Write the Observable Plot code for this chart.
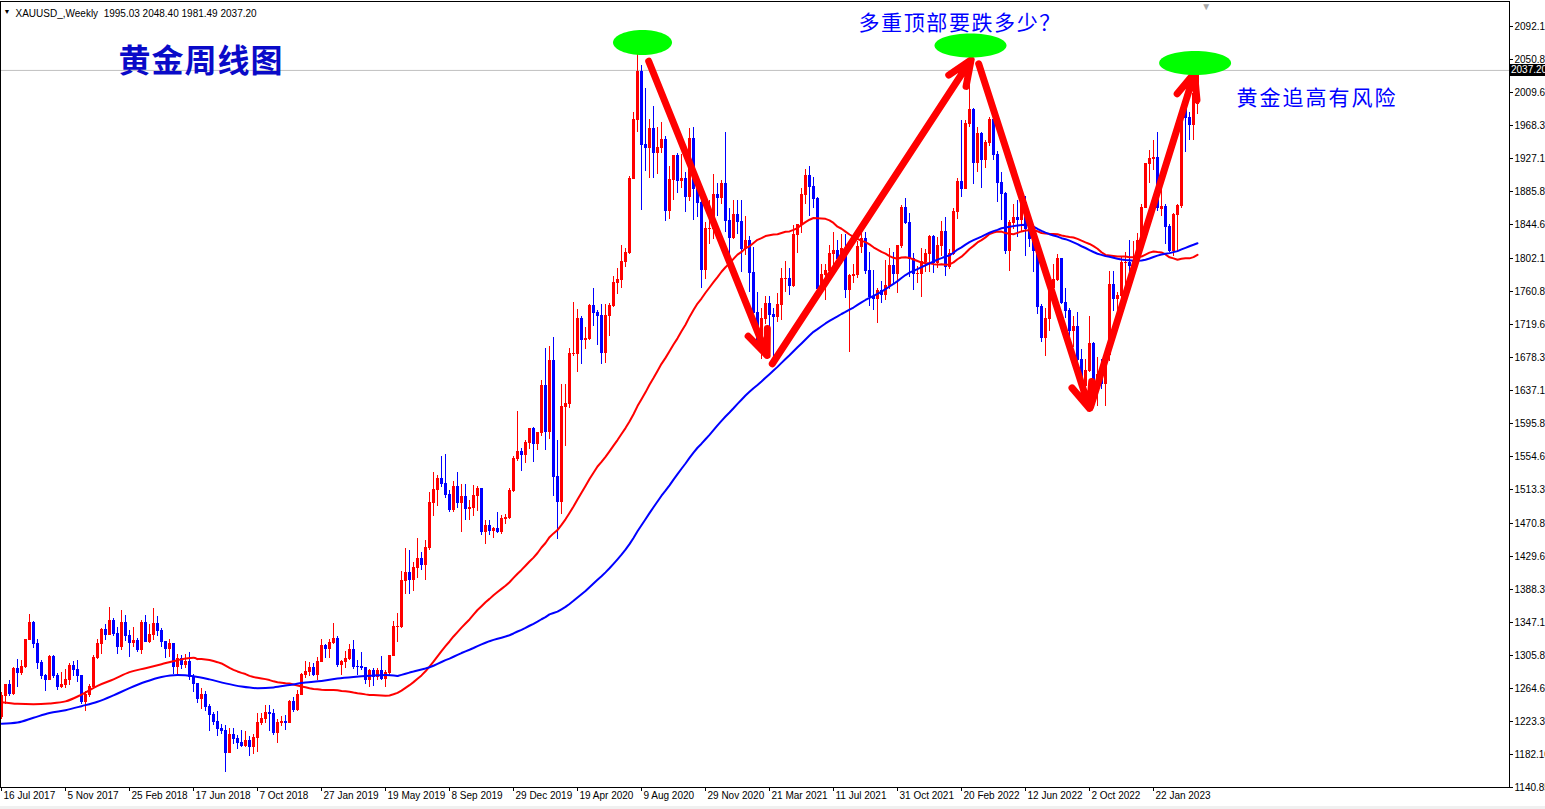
<!DOCTYPE html>
<html><head><meta charset="utf-8">
<script src="https://cdn.jsdelivr.net/npm/d3@7"></script>
<script src="https://cdn.jsdelivr.net/npm/@observablehq/plot@0.6"></script>
<style>
html,body{margin:0;padding:0;background:#fff;overflow:hidden;}
</style></head>
<body><div id="chart"></div>
<script>
// ---------- DATA (weekly XAUUSD, one entry per weekly bar, bar 0 = 16 Jul 2017) ----------
const weekLabels = ["16 Jul 2017","5 Nov 2017","25 Feb 2018","17 Jun 2018","7 Oct 2018","27 Jan 2019","19 May 2019","8 Sep 2019","29 Dec 2019","19 Apr 2020","9 Aug 2020","29 Nov 2020","21 Mar 2021","11 Jul 2021","31 Oct 2021","20 Feb 2022","12 Jun 2022","2 Oct 2022","22 Jan 2023"];
const labelBars = [0,16,32,48,64,80,96,112,128,144,160,176,192,208,224,240,256,272,288];

const opens = [
1229,1255,1269,1258,1289,1284,1291,1325,1346,1320, 1297,1280,1275,1304,1280,1266,1269,1275,1293,1288,
1280,1248,1256,1266,1303,1320,1338,1332,1349,1333, 1316,1347,1330,1321,1324,1313,1347,1323,1332,1345,
1336,1323,1314,1320,1292,1301,1294,1298,1279,1270, 1252,1256,1241,1231,1223,1214,1212,1184,1206,1201,
1196,1193,1199,1192,1203,1222,1226,1234,1233,1209, 1222,1223,1222,1248,1238,1257,1281,1285,1290,1282,
1298,1318,1314,1322,1327,1294,1298,1302,1313,1292, 1291,1290,1275,1287,1279,1286,1277,1284,1305,1341,
1341,1399,1409,1400,1415,1426,1419,1440,1496,1513, 1527,1520,1507,1488,1517,1497,1504,1489,1490,1505,
1514,1460,1468,1462,1464,1460,1476,1478,1511,1552, 1560,1557,1571,1589,1570,1584,1643,1585,1674,1529,
1498,1617,1620,1683,1683,1726,1700,1702,1743,1734, 1730,1684,1730,1743,1771,1775,1798,1809,1902,1975,
2035,1944,1940,1964,1934,1940,1950,1862,1900,1930, 1899,1902,1879,1951,1889,1871,1788,1839,1839,1881,
1878,1895,1849,1828,1856,1848,1814,1824,1784,1734, 1700,1727,1745,1732,1729,1744,1777,1777,1768,1831,
1844,1881,1905,1892,1877,1764,1781,1787,1808,1812, 1802,1814,1763,1780,1781,1817,1827,1787,1754,1751,
1761,1757,1768,1793,1783,1818,1865,1846,1802,1783, 1783,1798,1808,1829,1797,1818,1835,1792,1808,1860,
1898,1889,1970,1988,1921,1958,1925,1946,1975,1931, 1896,1883,1811,1846,1853,1850,1871,1839,1827,1811,
1742,1703,1727,1765,1775,1802,1747,1737,1712,1717, 1675,1643,1661,1695,1644,1657,1645,1681,1769,1751,
1755,1797,1797,1793,1798,1824,1865,1920,1926,1928, 1864,1866,1842,1811,1856,1868,1989,1978,1969,1995.03];

const highs = [
1260,1270,1275,1291,1301,1300,1326,1357,1348,1326, 1300,1282,1306,1306,1283,1284,1288,1296,1298,1299,
1280,1261,1270,1306,1326,1339,1345,1366,1352,1341, 1362,1356,1337,1341,1327,1349,1356,1345,1365,1354,
1339,1323,1326,1320,1307,1306,1307,1310,1282,1270, 1265,1261,1245,1235,1236,1220,1218,1214,1215,1206,
1212,1211,1204,1207,1233,1233,1243,1243,1238,1226, 1230,1231,1250,1253,1262,1283,1298,1297,1296,1303,
1326,1320,1326,1346,1330,1300,1311,1320,1325,1300, 1310,1291,1288,1289,1289,1304,1287,1306,1348,1358,
1411,1439,1437,1422,1452,1434,1449,1510,1535,1531, 1555,1557,1512,1523,1535,1519,1519,1500,1518,1517,
1514,1474,1475,1466,1484,1481,1482,1514,1554,1611, 1564,1574,1590,1591,1585,1649,1689,1692,1703,1575,
1644,1645,1690,1747,1738,1730,1716,1745,1765,1737, 1745,1744,1746,1779,1789,1818,1815,1904,1984,2075,
2043,2015,1976,1992,1966,1972,1955,1917,1931,1933, 1932,1910,1965,1966,1899,1876,1847,1875,1907,1896,
1900,1959,1864,1875,1875,1875,1855,1829,1816,1759, 1739,1755,1755,1740,1758,1789,1798,1790,1843,1845,
1890,1913,1917,1903,1878,1795,1795,1818,1834,1825, 1832,1832,1782,1795,1823,1834,1834,1809,1787,1764,
1773,1800,1814,1810,1818,1868,1877,1858,1808,1792, 1815,1813,1831,1831,1828,1848,1853,1813,1865,1902,
1974,1974,2070,1990,1966,1960,1949,1978,1998,1936, 1910,1884,1849,1870,1874,1877,1879,1847,1830,1813,
1745,1739,1767,1794,1807,1802,1765,1740,1729,1735, 1688,1676,1730,1697,1678,1676,1683,1786,1786,1760,
1804,1810,1824,1823,1833,1869,1921,1937,1949,1959, 1890,1870,1845,1858,1870,1990,2009,1984,2032,2048.40];

const lows = [
1226,1244,1254,1256,1266,1281,1290,1324,1314,1288, 1276,1261,1275,1277,1262,1264,1264,1268,1279,1272,
1245,1236,1253,1265,1301,1307,1325,1331,1330,1307, 1312,1323,1303,1316,1309,1307,1322,1321,1325,1330,
1316,1302,1303,1282,1282,1288,1290,1275,1260,1246, 1238,1236,1211,1218,1204,1207,1160,1183,1195,1188,
1191,1191,1180,1182,1185,1218,1221,1211,1206,1196, 1217,1212,1221,1235,1236,1256,1277,1279,1280,1275,
1298,1302,1302,1320,1291,1281,1290,1299,1288,1281, 1287,1270,1266,1267,1275,1274,1266,1280,1305,1322,
1340,1382,1382,1386,1402,1412,1400,1437,1480,1492, 1516,1502,1485,1484,1490,1459,1475,1475,1480,1486,
1456,1445,1456,1452,1458,1457,1470,1476,1510,1548, 1536,1546,1563,1547,1562,1580,1562,1576,1504,1451,
1482,1567,1614,1680,1659,1670,1688,1700,1717,1693, 1670,1671,1704,1741,1757,1765,1791,1807,1902,1960,
1862,1911,1902,1902,1907,1933,1848,1851,1874,1883, 1890,1860,1873,1850,1853,1764,1776,1820,1826,1855,
1870,1834,1803,1826,1832,1785,1806,1760,1717,1687, 1676,1719,1714,1677,1722,1724,1760,1756,1766,1808,
1833,1869,1855,1865,1761,1761,1750,1784,1791,1789, 1795,1752,1684,1771,1777,1808,1782,1742,1737,1721,
1746,1750,1763,1770,1758,1815,1845,1778,1762,1771, 1753,1785,1785,1783,1790,1805,1780,1788,1806,1851,
1878,1888,1966,1895,1910,1890,1915,1942,1925,1872, 1850,1807,1786,1838,1828,1836,1805,1816,1784,1732,
1697,1680,1711,1754,1773,1745,1727,1688,1691,1654, 1639,1615,1660,1640,1617,1638,1617,1673,1736,1721,
1743,1766,1773,1785,1795,1824,1865,1896,1912,1861, 1855,1819,1809,1804,1810,1864,1935,1949,1950,1981.49];

const closes = [
1255,1269,1258,1289,1284,1291,1325,1346,1320,1297, 1280,1275,1304,1280,1266,1269,1275,1293,1288,1280,
1248,1256,1266,1303,1320,1338,1332,1349,1333,1316, 1347,1330,1321,1324,1313,1347,1323,1332,1345,1336,
1323,1314,1320,1292,1301,1294,1298,1279,1270,1252, 1256,1241,1231,1223,1214,1212,1184,1206,1201,1196,
1193,1199,1192,1203,1222,1226,1234,1233,1209,1222, 1223,1222,1248,1238,1257,1281,1285,1290,1282,1298,
1318,1314,1322,1327,1294,1298,1302,1313,1292,1291, 1290,1275,1287,1279,1286,1277,1284,1305,1341,1341,
1399,1409,1400,1415,1426,1419,1440,1496,1513,1527, 1520,1507,1488,1517,1497,1504,1489,1490,1505,1514,
1460,1468,1462,1464,1460,1476,1478,1511,1552,1560, 1557,1571,1589,1570,1584,1643,1585,1674,1529,1498,
1617,1620,1683,1683,1726,1700,1702,1743,1734,1730, 1684,1730,1743,1771,1775,1798,1809,1902,1975,2035,
1944,1940,1964,1934,1940,1950,1862,1900,1930,1899, 1902,1879,1951,1889,1871,1788,1839,1839,1881,1878,
1895,1849,1828,1856,1848,1814,1824,1784,1734,1700, 1727,1745,1732,1729,1744,1777,1777,1768,1831,1844,
1881,1905,1892,1877,1764,1781,1787,1808,1812,1802, 1814,1763,1780,1781,1817,1827,1787,1754,1751,1761,
1757,1768,1793,1783,1818,1865,1846,1802,1783,1783, 1798,1808,1829,1797,1818,1835,1792,1808,1860,1898,
1889,1970,1988,1921,1958,1925,1946,1975,1931,1896, 1883,1811,1846,1853,1850,1871,1839,1827,1811,1742,
1703,1727,1765,1775,1802,1747,1737,1712,1717,1675, 1643,1661,1695,1644,1657,1645,1681,1769,1751,1755,
1797,1797,1793,1798,1824,1865,1920,1926,1928,1865, 1867,1842,1811,1856,1868,1989,1978,1969,2008,2037.20];

// moving averages before enough history exists on the chart
const redMAEarlyBars  = [0,4,8,12,16,20,24,28,32,36,40,44,48];
const redMAEarly      = [1247.5,1245.5,1245,1246,1248.5,1257,1268,1276,1285,1290,1295,1300,1303];
const blueMAEarlyBars = [0,4,8,12,16,20,24,28,32,36,40,44,48,52,56,60,64,68,72,76,80,84,88,92,96];
const blueMAEarly     = [1220.5,1222,1228,1234,1237.5,1242.5,1248,1256,1265,1273,1279,1281.5,1280,1276,1271,1267,1265,1266,1269,1272,1274,1277,1279,1280.5,1281.5];
const redPeriod = 50, bluePeriod = 100;

const yTicks = [2092.10,2050.85,2009.60,1968.35,1927.10,1885.85,1844.60,1802.10,1760.85,1719.60,1678.35,1637.10,1595.85,1554.60,1513.35,1470.85,1429.60,1388.35,1347.10,1305.85,1264.60,1223.35,1182.10,1140.85];
const lastPrice = 2037.20;
const headerText = "XAUUSD_,Weekly  1995.03 2048.40 1981.49 2037.20";

// annotations (bar index, price)
const arrowStartBar   = [161.8, 192.7, 244.3, 272.25];
const arrowStartPrice = [2048.7, 1670.5, 2045.5, 1616.2];
const arrowEndBar     = [191.4, 242.4, 272.0, 298.25];
const arrowEndPrice   = [1680.85, 2050.5, 1614.6, 2034.0];
const ellipseBar   = [160.25, 242.25, 298.4];
const ellipsePrice = [2072.1, 2068.35, 2046.5];
const noteTexts  = ["黄金周线图", "多重顶部要跌多少？", "黄金追高有风险"];
const noteBar    = [29.25, 214.25, 308.75];
const notePrice  = [2048.35, 2096.5, 2002.1];

// ---------- BUILD ----------
const bars = closes.map((c, i) => ({i, o: opens[i], h: highs[i], l: lows[i], c}));
const up = d => d.c >= d.o;
const down = d => d.c < d.o;

function smaSeries(period) {
  const out = [];
  for (let i = period - 1; i < closes.length; i++) out.push({i, v: d3.mean(closes.slice(i - period + 1, i + 1))});
  return out;
}
const redLate = smaSeries(redPeriod);
const blueLate = smaSeries(bluePeriod);
const redEarly = redMAEarlyBars.map((b, k) => ({i: b, v: redMAEarly[k]})).concat([redLate[0]]);
const blueEarly = blueMAEarlyBars.map((b, k) => ({i: b, v: blueMAEarly[k]})).concat([blueLate[0]]);

const arrows = arrowStartBar.map((b, k) => ({x1: b, y1: arrowStartPrice[k], x2: arrowEndBar[k], y2: arrowEndPrice[k]}));
const ellipses = ellipseBar.map((b, k) => ({i: b, p: ellipsePrice[k]}));
const notes = noteTexts.map((t, k) => ({t, i: noteBar[k], p: notePrice[k]}));

function ellipseSymbol(ratio) {
  return {draw(context, size) {
    const rx = Math.sqrt(size / Math.PI), ry = rx / ratio, k = 0.5523;
    context.moveTo(rx, 0);
    context.bezierCurveTo(rx, ry * k, rx * k, ry, 0, ry);
    context.bezierCurveTo(-rx * k, ry, -rx, ry * k, -rx, 0);
    context.bezierCurveTo(-rx, -ry * k, -rx * k, -ry, 0, -ry);
    context.bezierCurveTo(rx * k, -ry, rx, -ry * k, rx, 0);
    context.closePath();
  }};
}

const priceTag = (index, scales, values, dimensions) => {
  const g = d3.create("svg:g");
  const y = scales.y(lastPrice);
  const x0 = dimensions.width - dimensions.marginRight + 1;
  g.append("rect").attr("x", x0).attr("y", Math.round(y) - 6).attr("width", dimensions.marginRight).attr("height", 12).attr("fill", "#000");
  g.append("text").attr("x", x0 + 1).attr("y", y).attr("dy", "0.35em").attr("fill", "#fff")
    .attr("text-anchor", "start").attr("font-size", 10).text(lastPrice.toFixed(2));
  g.append("rect").attr("x", 0).attr("y", dimensions.height - 3).attr("width", dimensions.width).attr("height", 3).attr("fill", "#f0f0f0");
  return g.node();
};

const chart = Plot.plot({
  width: 1545,
  height: 809,
  marginTop: 1,
  marginRight: 36,
  marginBottom: 22,
  marginLeft: 0,
  style: {fontFamily: "'Liberation Sans', Arial, sans-serif", fontSize: "10px", background: "#fff", color: "#000", overflow: "hidden"},
  x: {domain: [-0.25, 377], ticks: labelBars, tickFormat: () => "", tickSize: 4, label: null},
  y: {domain: [1140.85, 2123.35], axis: "right", ticks: yTicks, tickFormat: d => d.toFixed(2), tickSize: 3, tickPadding: 2, label: null},
  marks: [
    Plot.ruleY([lastPrice], {stroke: "#c0c0c0"}),
    // wicks
    Plot.ruleX(bars, {filter: up, x: "i", y1: "l", y2: "h", stroke: "#ff0000", shapeRendering: "crispEdges"}),
    Plot.ruleX(bars, {filter: down, x: "i", y1: "l", y2: "h", stroke: "#0000ff", shapeRendering: "crispEdges"}),
    // bodies
    Plot.rect(bars, {filter: up, x1: d => d.i - 0.375, x2: d => d.i + 0.375, y1: "o", y2: "c", fill: "#ff0000", insetTop: -0.5, insetBottom: -0.5, shapeRendering: "crispEdges"}),
    Plot.rect(bars, {filter: down, x1: d => d.i - 0.375, x2: d => d.i + 0.375, y1: "o", y2: "c", fill: "#0000ff", insetTop: -0.5, insetBottom: -0.5, shapeRendering: "crispEdges"}),
    // moving averages
    Plot.line(redEarly, {x: "i", y: "v", stroke: "#ff0000", strokeWidth: 2, curve: "monotone-x"}),
    Plot.line(redLate, {x: "i", y: "v", stroke: "#ff0000", strokeWidth: 2}),
    Plot.line(blueEarly, {x: "i", y: "v", stroke: "#0000ff", strokeWidth: 2, curve: "monotone-x"}),
    Plot.line(blueLate, {x: "i", y: "v", stroke: "#0000ff", strokeWidth: 2}),
    // x labels
    Plot.text(labelBars, {x: d => d, text: (d, k) => weekLabels[k], frameAnchor: "bottom", textAnchor: "start", lineAnchor: "top", dx: 2, dy: 4, fill: "#000"}),
    // annotations
    Plot.arrow(arrows, {x1: "x1", y1: "y1", x2: "x2", y2: "y2", stroke: "#ff0000", strokeWidth: 7, headAngle: 45, headLength: 5.8}),
    Plot.dot([ellipses[0]], {x: "i", y: "p", r: 29.5, symbol: ellipseSymbol(2.36), fill: "#00ff00", stroke: "none"}),
    Plot.dot(ellipses.slice(1), {x: "i", y: "p", r: 36, symbol: ellipseSymbol(3.0), fill: "#00ff00", stroke: "none"}),
    Plot.text([notes[0]], {x: "i", y: "p", text: "t", textAnchor: "start", fontSize: 32, fontWeight: "bold", fill: "#0a0ac8", fontFamily: "'Noto Sans CJK SC', sans-serif"}),
    Plot.text(notes.slice(1), {x: "i", y: "p", text: "t", textAnchor: "start", fontSize: 21, fill: "#0000ff", fontFamily: "'Noto Sans CJK SC', sans-serif"}),
    // header
    Plot.text(["▼"], {frameAnchor: "top-left", dx: 3, dy: 8, text: d => d, fontSize: 7, fill: "#000"}),
    Plot.text([headerText], {frameAnchor: "top-left", dx: 15, dy: 8, text: d => d, fill: "#000"}),
    Plot.text(["▼"], {x: [301.2], frameAnchor: "top", dy: 1, text: d => d, fontSize: 10, fill: "#a8a8a8"}),
    Plot.frame({stroke: "#000"}),
    priceTag
  ]
});
// widen the spacing of the hand-written notes to match the reference lettering
d3.select(chart).selectAll("text").each(function() {
  const t = this.textContent;
  if (t === noteTexts[0]) this.style.letterSpacing = "1px";
  else if (t === noteTexts[1]) this.style.letterSpacing = "1.6px";
  else if (t === noteTexts[2]) this.style.letterSpacing = "2px";
});
document.getElementById("chart").appendChild(chart);
</script>
</body></html>
